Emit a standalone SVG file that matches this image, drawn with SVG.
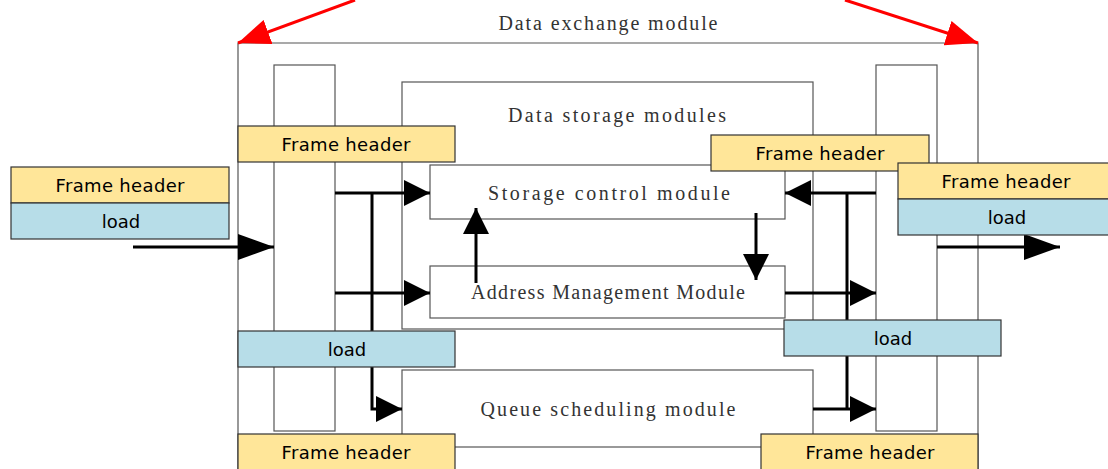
<svg xmlns="http://www.w3.org/2000/svg" width="1108" height="469" viewBox="0 0 1108 469">
<style>
.box{fill:#fff;stroke:#555;stroke-width:1.2}
.col{fill:none;stroke:#555;stroke-width:1.2}
.fh{fill:#FFE699;stroke:#333;stroke-width:1.2}
.ld{fill:#B7DDE8;stroke:#333;stroke-width:1.2}
.st{font-family:"Liberation Serif",serif;font-size:20px;fill:#333;text-anchor:middle}
.lb{font-family:"DejaVu Sans",sans-serif;font-size:18px;fill:#000;text-anchor:middle}
.ar{stroke:#000;stroke-width:3;fill:none}
.red{stroke:#f00;stroke-width:3;fill:none}
</style>
<defs>
<marker id="a" markerUnits="userSpaceOnUse" markerWidth="26" markerHeight="26" viewBox="0 0 24 24" refX="24" refY="12" orient="auto"><path d="M0,0 L24,12 L0,24 Z" fill="#000"/></marker>
<marker id="b" markerUnits="userSpaceOnUse" markerWidth="38" markerHeight="26" viewBox="0 0 36 26" refX="36" refY="13" orient="auto"><path d="M0,0 L36,13 L0,26 Z" fill="#000"/></marker>
<marker id="r" markerUnits="userSpaceOnUse" markerWidth="32" markerHeight="26" viewBox="0 0 30 24" refX="30" refY="12" orient="auto"><path d="M0,0 L30,12 L0,24 Z" fill="#f00"/></marker>
</defs>
<rect width="1108" height="469" fill="#fff"/>
<g id="exchange">
<path class="col" d="M238,469 V43 H978 V469"/>
<text class="st" x="608" y="30" textLength="219" lengthAdjust="spacing">Data exchange module</text>
</g>
<g id="leftColumn"><rect class="box" x="274" y="65" width="61" height="366"/></g>
<g id="rightColumn"><rect class="box" x="876" y="65" width="61" height="366"/></g>
<g id="storage">
<rect class="box" x="402" y="82" width="411" height="247"/>
<text class="st" x="617" y="122" textLength="218" lengthAdjust="spacing">Data storage modules</text>
</g>
<g id="storageControl">
<rect class="box" x="430" y="165" width="355" height="54"/>
<text class="st" x="609" y="200" textLength="242" lengthAdjust="spacing">Storage control module</text>
</g>
<g id="addressMgmt">
<rect class="box" x="430" y="266" width="355" height="52"/>
<text class="st" x="608" y="299" textLength="274" lengthAdjust="spacing">Address Management Module</text>
</g>
<g id="queue">
<rect class="box" x="402" y="370" width="411" height="77"/>
<text class="st" x="608" y="416" textLength="255" lengthAdjust="spacing">Queue scheduling module</text>
</g>
<g id="connectors">
<path class="red" d="M355,0 L238,43" marker-end="url(#r)"/>
<path class="red" d="M845,0 L978,43" marker-end="url(#r)"/>
<path class="ar" d="M133,247 H274" marker-end="url(#b)"/>
<path class="ar" d="M937,247 H1060" marker-end="url(#b)"/>
<path class="ar" d="M335,193 H430" marker-end="url(#a)"/>
<path class="ar" d="M372,193 V409 H402" marker-end="url(#a)"/>
<path class="ar" d="M335,293 H430" marker-end="url(#a)"/>
<path class="ar" d="M476,283 V208" marker-end="url(#a)"/>
<path class="ar" d="M756,213 V280" marker-end="url(#a)"/>
<path class="ar" d="M876,193 H785" marker-end="url(#a)"/>
<path class="ar" d="M847,193 V409"/>
<path class="ar" d="M785,293 H876" marker-end="url(#a)"/>
<path class="ar" d="M813,409 H876" marker-end="url(#a)"/>
</g>
<g id="fhLeftTop"><rect class="fh" x="238" y="126" width="217" height="36"/><text class="lb" x="346" y="151" textLength="129" lengthAdjust="spacing">Frame header</text></g>
<g id="inputPacket">
<rect class="fh" x="11" y="167" width="218" height="36"/><text class="lb" x="120" y="192" textLength="129" lengthAdjust="spacing">Frame header</text>
<rect class="ld" x="11" y="203" width="218" height="36"/><text class="lb" x="121" y="228">load</text>
</g>
<g id="fhRightMid"><rect class="fh" x="711" y="135" width="218" height="36"/><text class="lb" x="820" y="160" textLength="129" lengthAdjust="spacing">Frame header</text></g>
<g id="outputPacket">
<rect class="fh" x="898" y="163" width="215" height="36"/><text class="lb" x="1006" y="188" textLength="129" lengthAdjust="spacing">Frame header</text>
<rect class="ld" x="898" y="199" width="215" height="36"/><text class="lb" x="1007" y="224">load</text>
</g>
<g id="loadLeft"><rect class="ld" x="238" y="331" width="217" height="36"/><text class="lb" x="347" y="356">load</text></g>
<g id="loadRight"><rect class="ld" x="784" y="320" width="217" height="36"/><text class="lb" x="893" y="345">load</text></g>
<g id="fhLeftBottom"><rect class="fh" x="238" y="434" width="217" height="40"/><text class="lb" x="346" y="459" textLength="129" lengthAdjust="spacing">Frame header</text></g>
<g id="fhRightBottom"><rect class="fh" x="761" y="434" width="217" height="40"/><text class="lb" x="870" y="459" textLength="129" lengthAdjust="spacing">Frame header</text></g>
</svg>
